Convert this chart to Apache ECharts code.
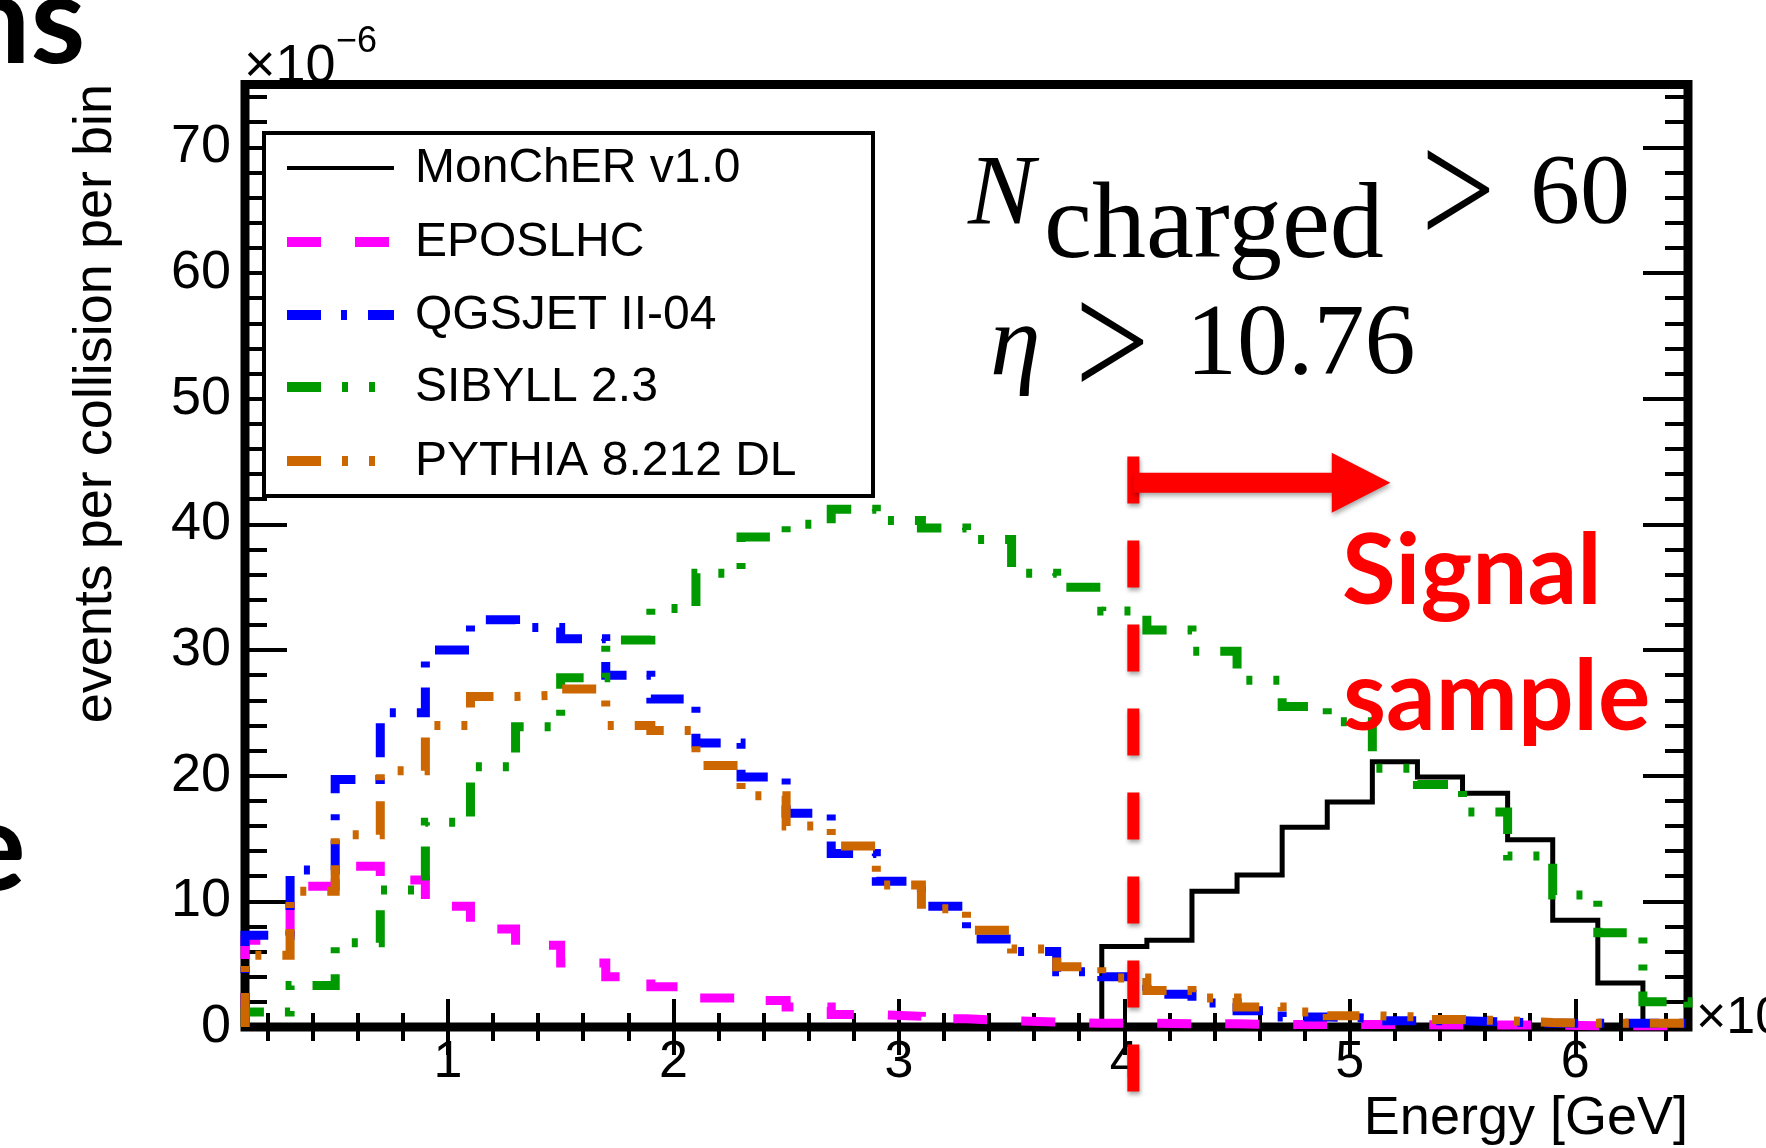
<!DOCTYPE html>
<html>
<head>
<meta charset="utf-8">
<title>Energy spectrum, N_charged > 60</title>
<script src="https://cdn.jsdelivr.net/npm/echarts@6.0.0/dist/echarts.min.js"></script>
<style>
html, body { margin: 0; padding: 0; background: #fff; }
#chart { width: 1766px; height: 1148px; }
</style>
</head>
<body>
<div id="chart"></div>
<script>
/******************************** data ********************************/
// histogram binning, energy in units of 10^3 GeV
var binLow = 0.1;
var binWidth = 0.2;

var seriesNames = ['MonChER v1.0', 'EPOSLHC', 'QGSJET II-04', 'SIBYLL 2.3', 'PYTHIA 8.212 DL'];

// events per collision per bin (x10^-6), one value per bin, bins 0.1-0.3 ... 6.3-6.5
var moncher = [0, 0, 0, 0, 0, 0, 0, 0, 0, 0, 0, 0, 0, 0, 0, 0, 0, 0, 0,
               6.4, 6.9, 10.8, 12.1, 15.9, 17.9, 21.1, 19.9, 18.6, 14.9, 8.5, 3.5, 0];
var eposlhc = [6.9, 11.2, 12.8, 11.7, 9.6, 7.8, 6.5, 5.1, 4.0, 3.2, 2.3, 2.1, 1.6, 1.0, 0.85, 0.65,
               0.5, 0.4, 0.3, 0.3, 0.25, 0.25, 0.2, 0.2, 0.2, 0.2, 0.15, 0.15, 0.15, 0.1, 0.1, 0.1];
var qgsjet  = [7.3, 12.5, 19.7, 25.0, 30.0, 32.4, 31.8, 30.9, 28.0, 26.1, 22.6, 19.9, 17.0, 13.8, 11.6, 9.6,
               7.0, 6.0, 4.4, 4.0, 2.6, 1.9, 1.3, 0.8, 0.7, 0.5, 0.5, 0.4, 0.3, 0.3, 0.3, 0.3];
var sibyll  = [1.2, 3.3, 6.7, 10.9, 16.3, 20.7, 23.9, 27.8, 30.8, 33.3, 36.1, 39.0, 40.0, 41.2, 40.3, 39.7,
               38.8, 36.1, 35.0, 33.1, 31.6, 29.9, 27.6, 25.5, 24.3, 20.6, 19.3, 17.1, 13.6, 10.5, 7.5, 2.0];
var pythia  = [5.7, 10.8, 15.3, 20.4, 24.0, 26.3, 26.4, 26.9, 24.0, 23.6, 20.8, 18.4, 16.0, 14.4, 11.3, 9.4,
               7.7, 6.2, 4.8, 3.9, 2.9, 2.3, 1.6, 1.2, 0.9, 0.8, 0.6, 0.5, 0.35, 0.3, 0.3, 0.3];

var xTickLabels = [1, 2, 3, 4, 5, 6];
var yTickLabels = [0, 10, 20, 30, 40, 50, 60, 70];

// signal cut line and arrow (data units)
var cutEnergy = 4.04;
var cutTop = 45.4;
var cutBottom = -5.2;
var arrowLevel = 43.3;
var arrowHeadAt = 4.92;
var arrowTipAt = 5.18;

/******************************** styles ********************************/
var lineStyles = [
    { color: '#000000', width: 5, type: 'solid' },
    { color: '#ff00ff', width: 9, type: [34, 34] },
    { color: '#0000ff', width: 9, type: [34, 20, 6, 21] },
    { color: '#009900', width: 9, type: [34, 21, 6, 21, 6, 21] },
    { color: '#cc6600', width: 9, type: [34, 21, 6, 21, 6, 21] }
];
var SANS = '"Liberation Sans", Arial, Helvetica, sans-serif';
var SERIF = '"Liberation Serif", "Times New Roman", serif';
var BOLD = 'Lato, "Open Sans", sans-serif';

// ROOT-like histogram outline: up from 0 at the first edge, down to 0 at the last
function histPoints(values) {
    var pts = [[binLow, 0]];
    for (var i = 0; i < values.length; i++) {
        pts.push([+(binLow + binWidth * (i + 1)).toFixed(2), values[i]]);
    }
    pts.push([pts[pts.length - 1][0], 0]);
    return pts;
}

var xMinor = [];
for (var k = 1; k <= 32; k++) {
    if (k % 5 !== 0) xMinor.push(+(k * 0.2).toFixed(1));
}
var yMinor = [];
for (var m = 2; m < 75; m += 2) {
    if (m % 10 !== 0) yMinor.push(m);
}

function xAxisDef(pos, ticks, len, labels) {
    return {
        type: 'value', position: pos, min: 0.1, max: 6.5,
        axisLine: { show: false },
        splitLine: { show: false },
        axisTick: { show: true, inside: true, length: len, customValues: ticks,
                    lineStyle: { color: '#000', width: 4 } },
        axisLabel: labels ? { show: true, customValues: labels, margin: 10, fontSize: 52,
                              fontFamily: SANS, color: '#000' } : { show: false }
    };
}
function yAxisDef(pos, ticks, len, labels) {
    return {
        type: 'value', position: pos, min: 0, max: 75,
        axisLine: { show: false },
        splitLine: { show: false },
        axisTick: { show: true, inside: true, length: len, customValues: ticks,
                    lineStyle: { color: '#000', width: 4 } },
        axisLabel: labels ? { show: true, customValues: labels, margin: 14, fontSize: 54,
                              fontFamily: SANS, color: '#000' } : { show: false }
    };
}

var dataSets = [moncher, eposlhc, qgsjet, sibyll, pythia];
var series = [];
for (var s = 0; s < dataSets.length; s++) {
    series.push({
        name: seriesNames[s],
        type: 'line',
        step: 'start',
        data: histPoints(dataSets[s]),
        symbol: 'none',
        clip: false,
        silent: true,
        lineStyle: { color: lineStyles[s].color, width: lineStyles[s].width, type: lineStyles[s].type,
                     cap: 'butt', join: 'miter' }
    });
}
// red signal cut line
series.push({
    type: 'line',
    data: [[cutEnergy, cutTop], [cutEnergy, cutBottom]],
    symbol: 'none',
    clip: false,
    silent: true,
    z: 10,
    lineStyle: { color: '#ff0000', width: 12, type: [47, 37], cap: 'butt',
                 shadowColor: 'rgba(0,0,0,0.35)', shadowBlur: 4, shadowOffsetX: 1, shadowOffsetY: 3 }
});

var chart = echarts.init(document.getElementById('chart'), null, { renderer: 'canvas' });
var option = {
    animation: false,
    backgroundColor: '#ffffff',
    grid: {
        left: 245, right: 78, top: 84.5, bottom: 121,
        show: true, borderColor: '#000', borderWidth: 9,
        containLabel: false, outerBoundsMode: 'none'
    },
    xAxis: [
        xAxisDef('bottom', xTickLabels, 28, xTickLabels),
        xAxisDef('bottom', xMinor, 14, null),
        xAxisDef('top', xTickLabels, 28, null),
        xAxisDef('top', xMinor, 14, null)
    ],
    yAxis: [
        yAxisDef('left', yTickLabels, 42, yTickLabels),
        yAxisDef('left', yMinor, 22, null),
        yAxisDef('right', yTickLabels, 45, null),
        yAxisDef('right', yMinor, 23, null)
    ],
    series: series
};
chart.setOption(option);

/******************************** annotations ********************************/
function txt(str, x, y, font, color, align, extra) {
    var el = {
        type: 'text', x: x, y: y, z: 100, silent: true,
        style: { text: str, font: font, fill: color || '#000',
                 textAlign: align || 'left', textVerticalAlign: 'middle' }
    };
    if (extra) { for (var key in extra) el[key] = extra[key]; }
    return el;
}

var pStart = chart.convertToPixel({ seriesIndex: 0 }, [cutEnergy, arrowLevel]);
var pHead = chart.convertToPixel({ seriesIndex: 0 }, [arrowHeadAt, arrowLevel]);
var pTip = chart.convertToPixel({ seriesIndex: 0 }, [arrowTipAt, arrowLevel]);
var ay = pStart[1];

var graphics = [];
// arrow
graphics.push({
    type: 'polygon', z: 100, silent: true,
    shape: { points: [[pStart[0], ay - 10], [pHead[0], ay - 10], [pHead[0], ay - 30], [pTip[0], ay],
                      [pHead[0], ay + 30], [pHead[0], ay + 10], [pStart[0], ay + 10]] },
    style: { fill: '#ff0000', shadowColor: 'rgba(0,0,0,0.35)', shadowBlur: 5, shadowOffsetX: 1, shadowOffsetY: 3 }
});

// legend box
var legendY = [168, 242, 315, 387, 461];
graphics.push({
    type: 'rect', z: 99, silent: true,
    shape: { x: 264, y: 133, width: 609, height: 363 },
    style: { fill: '#fff', stroke: '#000', lineWidth: 4 }
});
for (var i = 0; i < seriesNames.length; i++) {
    graphics.push({
        type: 'line', z: 100, silent: true,
        shape: { x1: 287, y1: legendY[i], x2: 394, y2: legendY[i] },
        style: { stroke: lineStyles[i].color, lineWidth: lineStyles[i].width === 5 ? 4 : 10,
                 lineDash: lineStyles[i].type === 'solid' ? null : lineStyles[i].type, lineCap: 'butt' }
    });
    graphics.push(txt(seriesNames[i], 415, legendY[i] + 1, '48px ' + SANS));
}

// axis titles and exponents
graphics.push(txt('×10', 244, 67, '54px ' + SANS));
graphics.push(txt('\u22126', 336, 42, '36px ' + SANS));
graphics.push(txt('×10', 1696, 1019, '52px ' + SANS));
graphics.push(txt('3', 1792, 995, '36px ' + SANS));
graphics.push(txt('Energy [GeV]', 1688, 1119, '54px ' + SANS, '#000', 'right'));
graphics.push(txt('events per collision per bin', 96, 84, '54px ' + SANS, '#000', 'right',
                  { rotation: Math.PI / 2 }));

// cut conditions
graphics.push(txt('N', 968, 197, 'italic 100px ' + SERIF));
graphics.push(txt('charged', 1044, 229, '108px ' + SERIF));
graphics.push(txt('>', 1421, 201, '132px ' + SERIF, '#000', 'left', { scaleY: 1.26 }));
graphics.push(txt('60', 1530, 196, '100px ' + SERIF));
graphics.push(txt('\u03b7', 990, 347, 'italic 102px ' + SERIF));
graphics.push(txt('>', 1075, 353, '132px ' + SERIF, '#000', 'left', { scaleY: 1.26 }));
graphics.push(txt('10.76', 1186, 347, '102px ' + SERIF));

// signal region label
graphics.push(txt('Signal', 1342, 572, 'bold 98px ' + BOLD, '#ff0000'));
graphics.push(txt('sample', 1343, 698, 'bold 98px ' + BOLD, '#ff0000'));

// slide text cut off at the page edge
graphics.push(txt('ns', -40, 23, 'bold 125px ' + BOLD));
graphics.push(txt('e', -41, 850, 'bold 125px ' + BOLD));

chart.setOption({ graphic: graphics });
</script>
</body>
</html>
